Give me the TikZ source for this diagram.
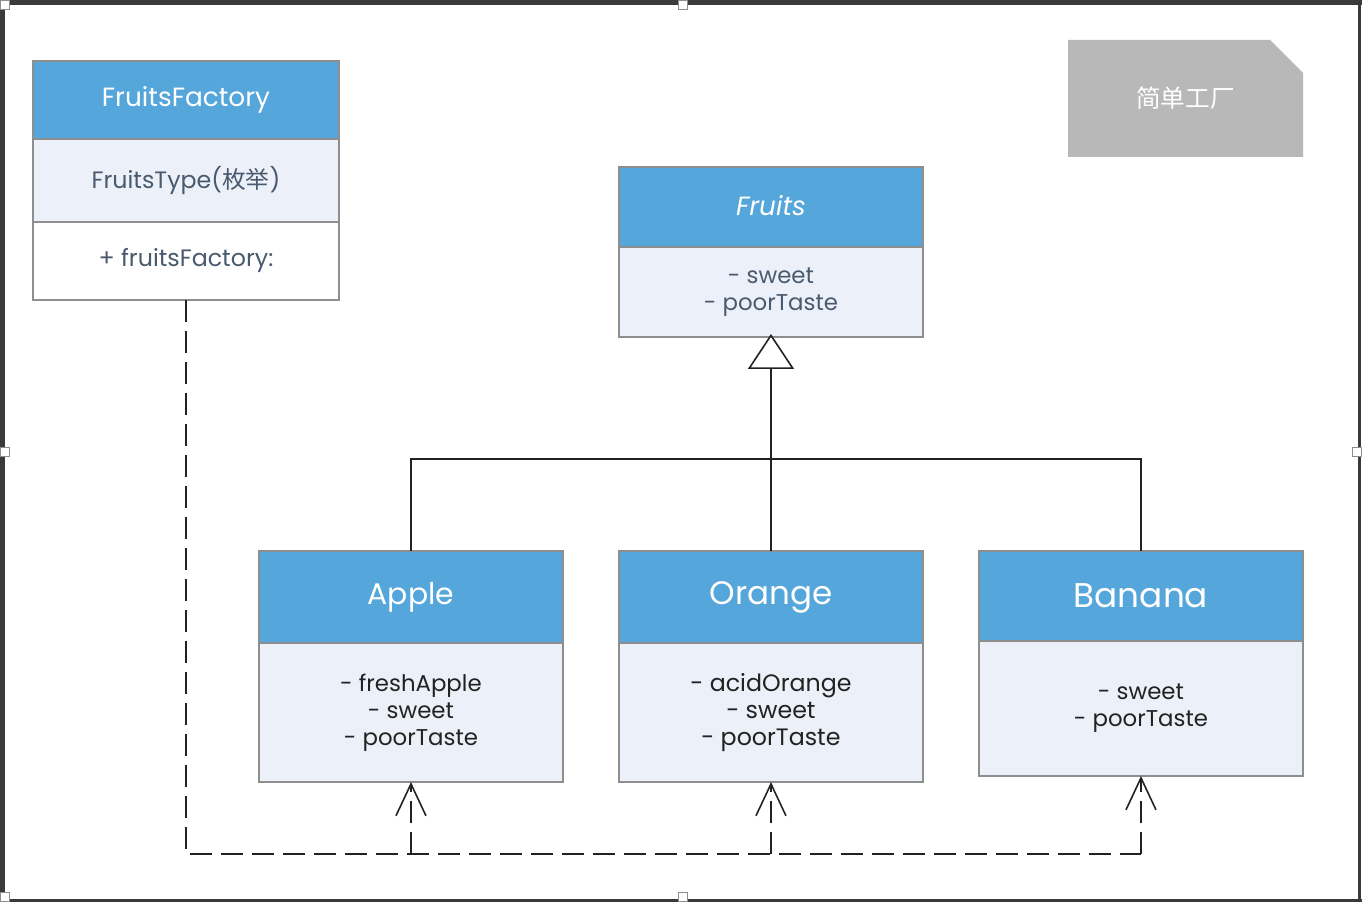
\documentclass[tikz,border=0pt]{standalone}
\usepackage{fontspec}
\setmainfont{Poppins}
\newfontfamily\cjk{Noto Sans CJK SC}
\usetikzlibrary{arrows.meta,positioning}
\definecolor{ink}{HTML}{222222}
\definecolor{umlblue}{HTML}{55A6DA}
\definecolor{umlline}{HTML}{8E8E8E}
\definecolor{umlbody}{HTML}{ECF1F9}
\definecolor{slate}{HTML}{4A5A6E}
\definecolor{notegrey}{HTML}{B8B8B8}
\definecolor{framegrey}{HTML}{3A3A3A}

\begin{document}
\begin{tikzpicture}[x=0.02cm,y=-0.02cm,
    head/.style={draw=umlline,fill=umlblue,text=white,line width=1pt,inner sep=0pt,outer sep=0pt,
      align=center,anchor=north west,font=\fontsize{17}{20}\selectfont},
    body/.style={draw=umlline,fill=umlbody,text=ink,line width=1pt,inner sep=0pt,outer sep=0pt,
      align=center,font=\fontsize{13}{15.3}\selectfont},
    link/.style={draw=ink,line width=0.9pt},
    gen/.style={link,-{Triangle[open,length=0.7cm,width=0.92cm]}},
    dep/.style={link,dash pattern=on 0.44cm off 0.18cm},
    deparrow/.style={dep,-{Straight Barb[length=0.64cm,width=0.6cm]}},
    handle/.style={draw=umlline,fill=white,line width=0.5pt,minimum size=0.18cm,inner sep=0pt}]
  \useasboundingbox (0,0) rectangle (1362,902);
  \fill[white] (0,0) rectangle (1362,902);

  % frame of the canvas
  \draw[framegrey,line width=0.1cm] (0,2.5) -- (1362,2.5);
  \draw[framegrey,line width=0.1cm] (2.5,0) -- (2.5,902);
  \draw[framegrey,line width=0.06cm] (1359,0) -- (1359,902);
  \draw[framegrey,line width=0.06cm] (0,900) -- (1362,900);
  \foreach \hx/\hy in {5/5,683/5,5/452,1357/452,5/897,683/897}
    \node[handle] at (\hx,\hy) {};

  % factory
  \node[head,minimum width=6.12cm,minimum height=1.56cm,font=\fontsize{15}{18}\selectfont] (factory) at (33,61) {FruitsFactory};
  \node[body,minimum width=6.12cm,minimum height=1.66cm,text=slate,below=0pt of factory,font=\fontsize{13.5}{16}\selectfont]
    (factoryType) {FruitsType({\cjk 枚举})};
  \node[body,fill=white,minimum width=6.12cm,minimum height=1.56cm,text=slate,below=0pt of factoryType,font=\fontsize{13.5}{16}\selectfont]
    (factoryOp) {+ fruitsFactory:};

  % note
  \fill[notegrey] (1068,40) -- (1270,40) -- (1303,73) -- (1303,157) -- (1068,157) -- cycle;
  \node[text=white,font=\fontsize{14}{16}\selectfont] (note) at (1185.5,98) {\cjk 简单工厂};

  % abstract product
  \node[head,minimum width=6.08cm,minimum height=1.6cm,font=\fontsize{15}{18}\selectfont\itshape] (fruits) at (619,167) {\raisebox{2pt}{Fruits}};
  \node[body,minimum width=6.08cm,minimum height=1.8cm,text=slate,below=0pt of fruits] (fruitsBody)
    {- sweet\\- poorTaste};

  % concrete products
  \node[head,minimum width=6.08cm,minimum height=1.84cm] (apple) at (259,551) {Apple};
  \node[body,minimum width=6.08cm,minimum height=2.78cm,below=0pt of apple] (appleBody)
    {- freshApple\\- sweet\\- poorTaste};
  \node[head,minimum width=6.08cm,minimum height=1.84cm,font=\fontsize{18.5}{20}\selectfont] (orange) at (619,551) {Orange};
  \node[body,minimum width=6.08cm,minimum height=2.78cm,below=0pt of orange,font=\fontsize{13.5}{15.3}\selectfont] (orangeBody)
    {- acidOrange\\- sweet\\- poorTaste};
  \node[head,minimum width=6.48cm,minimum height=1.8cm,font=\fontsize{19.5}{22}\selectfont] (banana) at (979,551) {Banana};
  \node[body,minimum width=6.48cm,minimum height=2.7cm,below=0pt of banana] (bananaBody)
    {- sweet\\- poorTaste};

  % generalization
  \coordinate (split) at (771,459);
  \draw[gen] (split) -- ([yshift=0.06cm]fruitsBody.south);
  \draw[link] (apple.north) |- (split) -| (banana.north);
  \draw[link] (orange.north) -- (split);

  % dependencies
  \coordinate (bus) at (1141,854);
  \draw[dep] (factoryOp.south) |- (bus);
  \draw[deparrow] (appleBody.south |- bus) -- (appleBody.south);
  \draw[deparrow] (orangeBody.south |- bus) -- (orangeBody.south);
  \draw[deparrow] (bananaBody.south |- bus) -- (bananaBody.south);
\end{tikzpicture}
\end{document}
